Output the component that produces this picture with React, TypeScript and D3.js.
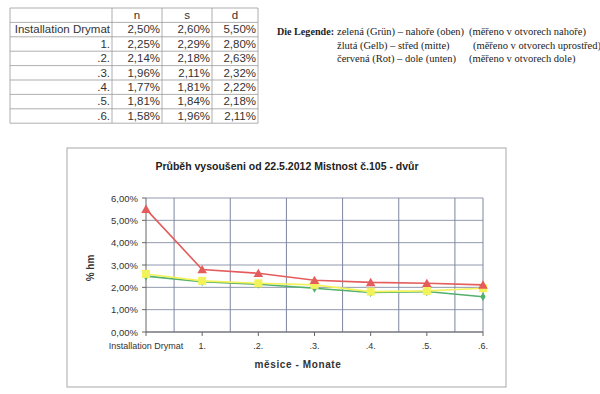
import React from "react";
import * as d3 from "d3";

const categories = ["Installation Drymat", "1.", ".2.", ".3.", ".4.", ".5.", ".6."];
const seriesN = [2.5, 2.25, 2.14, 1.96, 1.77, 1.81, 1.58];
const seriesS = [2.6, 2.29, 2.18, 2.11, 1.81, 1.84, 1.96];
const seriesD = [5.5, 2.8, 2.63, 2.32, 2.22, 2.18, 2.11];
const headers = ["n", "s", "d"];
const yTicks = [0, 1, 2, 3, 4, 5, 6];
const legendColors = ["zelená (Grün) – nahoře (oben)", "žlutá (Gelb) – střed (mitte)", "červená (Rot) – dole (unten)"];
const legendNotes = ["(měřeno v otvorech nahoře)", "(měřeno v otvorech uprostřed)", "(měřeno v otvorech dole)"];

const pct = (v: number) => v.toFixed(2).replace(".", ",") + "%";

const arial = "Arial, 'Liberation Sans', sans-serif";
const times = "'Times New Roman', 'Liberation Serif', serif";

const series = [
  { name: "n", values: seriesN, color: "#52b06c", marker: "diamond" },
  { name: "s", values: seriesS, color: "#f2f25a", marker: "square" },
  { name: "d", values: seriesD, color: "#e45c5c", marker: "triangle" },
];

const Table = () => {
  const colX = [10, 112, 162, 212, 258];
  const rowY = d3.range(9).map((i) => 8 + i * 14.4);
  const rows = categories.map((c, i) => [c, pct(seriesN[i]), pct(seriesS[i]), pct(seriesD[i])]);
  return (
    <g fontFamily={arial} fontSize={11.5} fill="#333">
      {rowY.map((y, i) => (
        <line key={"h" + i} x1={colX[0]} x2={colX[4]} y1={y} y2={y} stroke="#9a9a9a" strokeWidth={0.8} />
      ))}
      {colX.map((x, i) => (
        <line key={"v" + i} x1={x} x2={x} y1={rowY[0]} y2={rowY[8]} stroke="#9a9a9a" strokeWidth={0.8} />
      ))}
      {headers.map((h, i) => (
        <text key={h} x={(colX[i + 1] + colX[i + 2]) / 2} y={rowY[0] + 11} textAnchor="middle">
          {h}
        </text>
      ))}
      {rows.map((r, ri) =>
        r.map((cell, ci) => (
          <text key={ri + "-" + ci} x={colX[ci + 1] - 2} y={rowY[ri + 1] + 11} textAnchor="end">
            {cell}
          </text>
        ))
      )}
    </g>
  );
};

const Legend = () => (
  <g fontFamily={times} fontSize={10.5} fill="#222">
    <text x={277} y={35} fontWeight="bold" textLength={57} lengthAdjust="spacingAndGlyphs">Die Legende:</text>
    {legendColors.map((t, i) => (
      <text key={t} x={337} y={35 + i * 13.5}>{t}</text>
    ))}
    {legendNotes.map((t, i) => (
      <text key={t} x={i === 1 ? 473 : 469} y={35 + i * 13.5}>{t}</text>
    ))}
  </g>
);

const Marker = ({ type, x, y, color }: { type: string; x: number; y: number; color: string }) => {
  if (type === "triangle") {
    const s = d3.symbol(d3.symbolTriangle, 40)() as string;
    return <path d={s} transform={`translate(${x},${y + 1})`} fill={color} />;
  }
  if (type === "square") {
    return <rect x={x - 4} y={y - 4} width={8} height={8} fill={color} />;
  }
  const s = d3.symbol(d3.symbolDiamond, 24)() as string;
  return <path d={s} transform={`translate(${x},${y})`} fill={color} />;
};

const Chart = () => {
  const left = 146;
  const right = 483;
  const top = 198;
  const bottom = 332;
  const x = d3.scalePoint<string>().domain(categories).range([left, right]);
  const y = d3.scaleLinear().domain([0, 6]).range([bottom, top]);
  const step = x.step();
  const gridX = categories.slice(0, -1).map((c) => (x(c) as number) + step / 2);
  const line = d3
    .line<number>()
    .x((_, i) => x(categories[i]) as number)
    .y((d) => y(d));

  return (
    <g>
      <rect x={67} y={148} width={439} height={239} fill="#fff" stroke="#a8a8a8" strokeWidth={1} />
      <text x={287} y={170} textAnchor="middle" fontFamily={arial} fontSize={10.5} fontWeight="bold" fill="#222">
        Průběh vysoušeni od 22.5.2012 Mistnost č.105 - dvůr
      </text>
      {yTicks.map((t) => (
        <g key={t}>
          <line x1={left} x2={right} y1={y(t)} y2={y(t)} stroke="#9098ae" strokeWidth={1} />
          <line x1={left - 4} x2={left} y1={y(t)} y2={y(t)} stroke="#666" strokeWidth={1} />
          <text x={left - 8} y={y(t) + 3.5} textAnchor="end" fontFamily={arial} fontSize={9.5} fill="#333">
            {pct(t)}
          </text>
        </g>
      ))}
      {gridX.map((gx, i) => (
        <line key={i} x1={gx} x2={gx} y1={top} y2={bottom} stroke="#7e86a0" strokeWidth={1} />
      ))}
      <line x1={right} x2={right} y1={top} y2={bottom} stroke="#7e86a0" strokeWidth={1} />
      <line x1={left} x2={left} y1={top} y2={bottom} stroke="#666" strokeWidth={1} />
      <line x1={left} x2={right} y1={bottom} y2={bottom} stroke="#666" strokeWidth={1} />
      {categories.map((c) => (
        <g key={c}>
          <line x1={x(c)} x2={x(c)} y1={bottom} y2={bottom + 4} stroke="#666" strokeWidth={1} />
          <text x={x(c)} y={bottom + 17} textAnchor="middle" fontFamily={arial} fontSize={9} fill="#333">
            {c}
          </text>
        </g>
      ))}
      {series.map((s) => (
        <g key={s.name}>
          <path d={line(s.values) as string} fill="none" stroke={s.color} strokeWidth={1.6} />
          {s.values.map((v, i) => (
            <Marker key={i} type={s.marker} x={x(categories[i]) as number} y={y(v)} color={s.color} />
          ))}
        </g>
      ))}
      <text x={298} y={368} textAnchor="middle" fontFamily={arial} fontSize={10} fontWeight="bold" fill="#333" letterSpacing={0.6}>
        měsice - Monate
      </text>
      <text transform="translate(94,268) rotate(-90)" textAnchor="middle" fontFamily={arial} fontSize={10} fontWeight="bold" fill="#333">
        % hm
      </text>
    </g>
  );
};

export default function App() {
  return (
    <svg width={600} height={394} style={{ position: "absolute", left: 0, top: 0, background: "#fff" }}>
      <Table />
      <Legend />
      <Chart />
    </svg>
  );
}
